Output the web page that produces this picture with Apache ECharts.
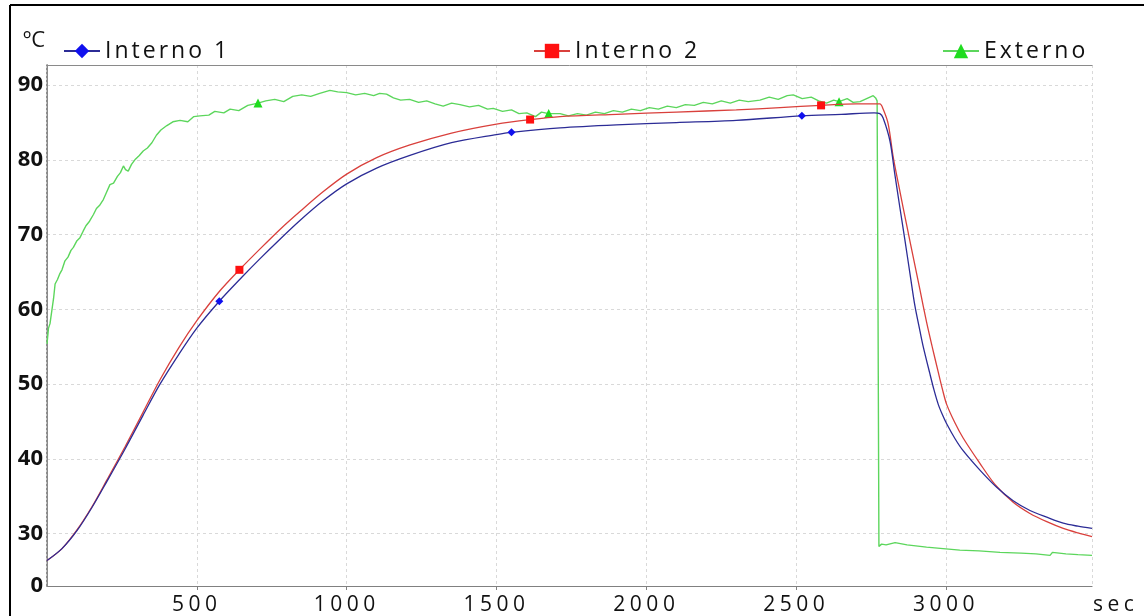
<!DOCTYPE html>
<html>
<head>
<meta charset="utf-8">
<style>
html,body{margin:0;padding:0;background:#fff;}
#chart{width:1144px;height:616px;}
</style>
<script>
(function(){
  var P = CanvasRenderingContext2D.prototype;
  if (!('letterSpacing' in P)) return;
  function sp(f){ return /\b23px/.test(f) ? '3px' : (/\b21px/.test(f) ? '4.5px' : '0px'); }
  var of = P.fillText, om = P.measureText;
  P.fillText = function(t,x,y,m){ this.letterSpacing = sp(this.font); return m === undefined ? of.call(this,t,x,y) : of.call(this,t,x,y,m); };
  P.measureText = function(t){ this.letterSpacing = sp(this.font); return om.call(this,t); };
})();
</script>
<script src="https://cdn.jsdelivr.net/npm/echarts@6/dist/echarts.min.js"></script>
</head>
<body>
<div id="chart"></div>
<script>
// ---- data (time in sec, temperature in ºC) ----
const seriesNames = ['Interno 1', 'Interno 2', 'Externo'];

const tInt1 = [0, 50, 100, 150, 200, 260, 320, 377, 440, 500, 575, 650, 711, 780, 844, 920, 1000, 1100, 1211, 1350, 1500, 1550, 1712, 1900, 2100, 2300, 2519, 2650, 2760, 2779, 2790, 2813, 2829, 2846, 2863, 2880, 2896, 2913, 2924, 2946, 2960, 2974, 2988, 3002, 3030, 3057, 3113, 3169, 3224, 3280, 3336, 3391, 3440, 3487];
const vInt1 = [26.4, 28.0, 30.4, 33.5, 37.0, 41.3, 45.8, 50.0, 54.0, 57.5, 61.1, 64.3, 66.8, 69.5, 71.9, 74.5, 76.8, 78.9, 80.6, 82.3, 83.4, 83.7, 84.3, 84.7, 85.0, 85.3, 85.9, 86.1, 86.3, 86.2, 85.6, 82.5, 78.1, 73.6, 69.2, 64.7, 60.5, 57.1, 55.0, 51.4, 49.2, 47.3, 45.9, 44.7, 42.7, 41.1, 38.5, 36.2, 34.4, 33.1, 32.2, 31.4, 31.0, 30.7];

const tInt2 = [0, 50, 100, 150, 200, 260, 320, 377, 440, 500, 575, 642, 711, 780, 844, 920, 1000, 1100, 1211, 1350, 1500, 1612, 1712, 1900, 2100, 2300, 2446, 2583, 2700, 2779, 2790, 2807, 2824, 2846, 2868, 2891, 2913, 2935, 2955, 2974, 2988, 3002, 3030, 3057, 3113, 3163, 3224, 3280, 3336, 3391, 3440, 3487];
const vInt2 = [26.4, 28.0, 30.5, 33.6, 37.2, 41.6, 46.2, 50.6, 54.9, 58.5, 62.4, 65.3, 68.1, 70.8, 73.1, 75.7, 78.1, 80.3, 82.0, 83.6, 84.8, 85.4, 85.8, 86.1, 86.4, 86.7, 87.0, 87.3, 87.5, 87.5, 86.8, 84.8, 80.3, 75.8, 71.4, 66.9, 62.6, 58.3, 54.8, 51.6, 49.3, 47.3, 44.8, 42.8, 39.4, 36.6, 34.2, 32.7, 31.6, 30.7, 30.1, 29.6];

const tExt = [0, 5, 10, 16, 22, 27, 35, 43, 50, 60, 70, 80, 88, 100, 110, 121, 130, 142, 155, 165, 175, 188, 198, 210, 222, 235, 245, 255, 262, 271, 282, 295, 308, 321, 335, 350, 365, 380, 400, 420, 444, 470, 490, 510, 540, 560, 590, 611, 640, 670, 704, 730, 760, 790, 820, 850, 880, 910, 944, 970, 1000, 1030, 1060, 1090, 1110, 1133, 1156, 1180, 1210, 1240, 1267, 1295, 1322, 1350, 1378, 1410, 1440, 1470, 1489, 1520, 1550, 1575, 1601, 1630, 1650, 1674, 1712, 1740, 1770, 1800, 1830, 1860, 1890, 1920, 1950, 1980, 2010, 2040, 2070, 2100, 2130, 2160, 2190, 2220, 2250, 2280, 2310, 2340, 2379, 2410, 2440, 2470, 2490, 2520, 2550, 2575, 2601, 2625, 2643, 2670, 2690, 2713, 2735, 2757, 2765, 2770, 2773, 2776, 2785, 2800, 2830, 2870, 2935, 2990, 3046, 3110, 3180, 3250, 3300, 3347, 3355, 3400, 3440, 3487];
const vExt = [55.4, 57.5, 58.1, 59.8, 61.5, 63.4, 64.0, 64.8, 65.3, 66.5, 67.0, 67.9, 68.3, 69.2, 69.6, 70.5, 71.2, 71.8, 72.7, 73.5, 73.9, 74.7, 75.6, 76.7, 76.9, 77.8, 78.3, 79.2, 78.7, 78.5, 79.4, 80.1, 80.6, 81.2, 81.6, 82.3, 83.3, 84.0, 84.6, 85.1, 85.3, 85.1, 85.8, 85.9, 86.0, 86.5, 86.3, 86.8, 86.6, 87.3, 87.6, 87.9, 88.1, 87.8, 88.5, 88.7, 88.5, 88.9, 89.3, 89.1, 89.0, 88.7, 88.9, 88.6, 88.9, 88.8, 88.3, 88.0, 88.1, 87.7, 87.9, 87.5, 87.2, 87.6, 87.4, 87.1, 87.3, 86.8, 86.9, 86.5, 86.7, 86.2, 86.3, 85.8, 86.4, 86.2, 86.2, 85.9, 86.2, 86.0, 86.4, 86.2, 86.6, 86.4, 86.8, 86.6, 87.0, 86.8, 87.2, 87.0, 87.4, 87.3, 87.7, 87.5, 87.9, 87.6, 88.0, 87.8, 88.0, 88.4, 88.1, 88.6, 88.7, 88.2, 88.4, 87.9, 87.6, 88.0, 87.8, 88.2, 87.7, 87.8, 88.2, 88.6, 88.3, 87.9, 60.0, 28.3, 28.6, 28.5, 28.8, 28.5, 28.2, 28.0, 27.8, 27.7, 27.5, 27.4, 27.3, 27.1, 27.5, 27.3, 27.2, 27.1];

// times at which the plotting program drew a marker on each curve
const markInt1 = [575, 1550, 2519];
const markInt2 = [642, 1612, 2583];
const markExt = [704, 1674, 2643];

// axis ticks
const yTicks = [30, 40, 50, 60, 70, 80, 90];
const yBottom = 23;       // bottom of the (broken) axis, labelled "0"
const yBottomLabel = '0';
const yTop = 92.7;
const xMax = 3487;
const xStep = 500;

function build(ts, vs, marks) {
  return ts.map(function (t, i) {
    const item = { value: [t, vs[i]] };
    if (marks.indexOf(t) < 0) item.symbol = 'none';
    return item;
  });
}

const chart = echarts.init(document.getElementById('chart'), null, { renderer: 'canvas' });
const legendCommon = {
  top: 33, itemWidth: 36, itemHeight: 18, itemGap: 10,
  textStyle: { fontSize: 23, fontFamily: 'Open Sans', color: '#111' },
  lineStyle: { width: 2 }
};
const option = {
  backgroundColor: '#fff',
  animation: false,
  grid: { left: 47, right: 52, top: 65, bottom: 30, containLabel: false, outerBoundsMode: 'none' },
  legend: [
    Object.assign({ data: [seriesNames[0]], left: 58 }, legendCommon),
    Object.assign({ data: [seriesNames[1]], left: 528 }, legendCommon),
    Object.assign({ data: [seriesNames[2]], left: 937 }, legendCommon)
  ],
  graphic: [
    { type: 'line', shape: { x1: 10, y1: 5, x2: 1144, y2: 5 }, style: { stroke: '#000', lineWidth: 2 }, silent: true },
    { type: 'line', shape: { x1: 10, y1: 5, x2: 10, y2: 616 }, style: { stroke: '#000', lineWidth: 2 }, silent: true }
  ],
  xAxis: [{
    type: 'value', min: 0, max: xMax, interval: xStep,
    name: 'sec', nameLocation: 'end', nameGap: 1,
    nameTextStyle: { fontSize: 21, fontFamily: 'Open Sans', color: '#111', align: 'left', verticalAlign: 'top', padding: [6, 0, 0, 0] },
    axisLine: { show: true, lineStyle: { color: '#808080', width: 1.2 } },
    axisTick: { show: true, length: 4, lineStyle: { color: '#808080' } },
    axisLabel: { fontSize: 21, fontFamily: 'Open Sans', color: '#111', margin: 6, showMinLabel: false, showMaxLabel: false,
      formatter: function (v) { return v === 0 ? '' : String(v); } },
    splitLine: { show: true, lineStyle: { color: '#d9d9d9', type: [3, 3] } }
  }, {
    type: 'value', position: 'top', min: 0, max: xMax,
    axisLine: { show: true, lineStyle: { color: '#8a8a8a', width: 1 } },
    axisTick: { show: false }, axisLabel: { show: false }, splitLine: { show: false }
  }],
  yAxis: [{
    type: 'value', min: yBottom, max: yTop,
    name: 'ºC', nameLocation: 'end', nameGap: 13,
    nameTextStyle: { fontSize: 22, fontFamily: 'Open Sans', color: '#111', align: 'right', verticalAlign: 'bottom', padding: [0, 2, 0, 0] },
    axisLine: { show: true, lineStyle: { color: '#6a6a6a', type: [2, 2], width: 1.5 } },
    axisTick: { show: false, customValues: yTicks },
    axisLabel: { customValues: [yBottom].concat(yTicks), fontSize: 22, fontWeight: 'bold', fontFamily: 'Open Sans', color: '#111', margin: 4,
      formatter: function (v) { return v === yBottom ? yBottomLabel : String(v); } },
    splitLine: { show: true, lineStyle: { color: '#d9d9d9', type: [3, 3] } }
  }, {
    type: 'value', position: 'right', min: yBottom, max: yTop,
    axisLine: { show: true, lineStyle: { color: '#8a8a8a', width: 1 } },
    axisTick: { show: false }, axisLabel: { show: false }, splitLine: { show: false }
  }],
  series: [
    {
      name: seriesNames[2], type: 'line', data: build(tExt, vExt, markExt),
      symbol: 'triangle', symbolSize: 9, showSymbol: true, showAllSymbol: true,
      lineStyle: { color: '#5cd65c', width: 1.4 }, itemStyle: { color: '#1fdc1f' }, z: 2
    },
    {
      name: seriesNames[1], type: 'line', data: build(tInt2, vInt2, markInt2),
      symbol: 'rect', symbolSize: 8, showSymbol: true, showAllSymbol: true, smooth: 0.3,
      lineStyle: { color: '#d9403c', width: 1.3 }, itemStyle: { color: '#ff1010' }, z: 3
    },
    {
      name: seriesNames[0], type: 'line', data: build(tInt1, vInt1, markInt1),
      symbol: 'diamond', symbolSize: 8, showSymbol: true, showAllSymbol: true, smooth: 0.3,
      lineStyle: { color: '#2c2c96', width: 1.3 }, itemStyle: { color: '#1010ee' }, z: 4
    }
  ]
};
chart.setOption(option);
</script>
</body>
</html>
